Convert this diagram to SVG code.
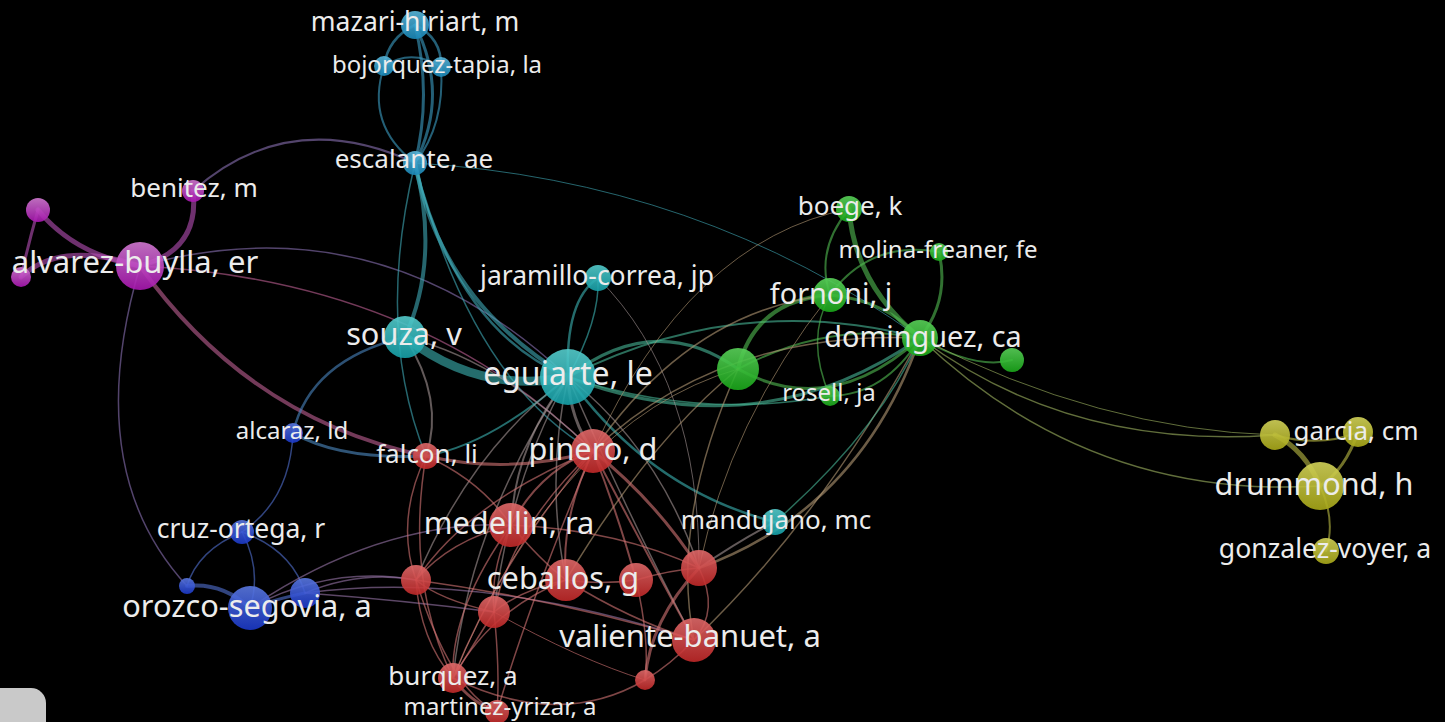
<svg xmlns="http://www.w3.org/2000/svg" width="1445" height="722" viewBox="0 0 1445 722">
<defs>
<style>
.e{fill:none;stroke-linecap:round;stroke-opacity:0.6}
.m{stroke:#b850b8}.mb{stroke:#8a72b4}.mp{stroke:#c06095}
.lb{stroke:#3c9ec4}.lt{stroke:#40aab8}.t{stroke:#3cb4b4}.tb{stroke:#4a86c0}.tg{stroke:#48b898}
.g{stroke:#52bc52}.gy{stroke:#a2b862}.y{stroke:#bcbc44}
.b{stroke:#5272d2}.bt{stroke:#4f8cc4}.br{stroke:#9a76aa}
.r{stroke:#d47474}.rt{stroke:#a49494}.rg{stroke:#b49a74}
.n{opacity:0.9}
text{font-family:"Noto Sans","Open Sans","DejaVu Sans",sans-serif;fill:#ececec;text-anchor:middle}
</style>
<linearGradient id="gM" x1="0" y1="0" x2="0" y2="1"><stop offset="0" stop-color="#d27ad2"/><stop offset="1" stop-color="#a816b0"/></linearGradient>
<linearGradient id="gL" x1="0" y1="0" x2="0" y2="1"><stop offset="0" stop-color="#5ab8dc"/><stop offset="1" stop-color="#1a88b8"/></linearGradient>
<linearGradient id="gT" x1="0" y1="0" x2="0" y2="1"><stop offset="0" stop-color="#55cccc"/><stop offset="1" stop-color="#16a0a8"/></linearGradient>
<linearGradient id="gG" x1="0" y1="0" x2="0" y2="1"><stop offset="0" stop-color="#5ad25a"/><stop offset="1" stop-color="#1aa81a"/></linearGradient>
<linearGradient id="gY" x1="0" y1="0" x2="0" y2="1"><stop offset="0" stop-color="#d4d45a"/><stop offset="1" stop-color="#a8a818"/></linearGradient>
<linearGradient id="gB" x1="0" y1="0" x2="0" y2="1"><stop offset="0" stop-color="#5a78e0"/><stop offset="1" stop-color="#1a38c8"/></linearGradient>
<linearGradient id="gR" x1="0" y1="0" x2="0" y2="1"><stop offset="0" stop-color="#e06a6a"/><stop offset="1" stop-color="#c02828"/></linearGradient>
</defs>
<rect width="1445" height="722" fill="#000"/>
<g id="connectors">
<path class="e m" stroke-width="5" d="M38 210 Q75 255 140 266"/>
<path class="e m" stroke-width="5" d="M21 277 Q60 240 140 266"/>
<path class="e m" stroke-width="3" d="M38 210 Q28 245 21 277"/>
<path class="e m" stroke-width="5" d="M140 266 Q200 250 193 191"/>
<path class="e mb" stroke-width="2" d="M193 191 Q290 105 415 163"/>
<path class="e mb" stroke-width="1.5" d="M140 266 Q380 200 568 377"/>
<path class="e mp" stroke-width="1.5" d="M140 266 Q420 280 593 451"/>
<path class="e mp" stroke-width="4" d="M140 266 Q250 420 426 456"/>
<path class="e mb" stroke-width="1.5" d="M140 266 Q80 470 187 586"/>
<path class="e lb" stroke-width="2.5" d="M415 25 Q388 38 384 66"/>
<path class="e lb" stroke-width="2.5" d="M415 25 Q442 38 441 67"/>
<path class="e lb" stroke-width="2" d="M384 66 Q412 48 441 67"/>
<path class="e lb" stroke-width="3" d="M415 25 Q450 95 415 163"/>
<path class="e lb" stroke-width="3" d="M415 25 Q432 95 415 163"/>
<path class="e lb" stroke-width="2" d="M384 66 Q365 125 415 163"/>
<path class="e lb" stroke-width="2" d="M441 67 Q445 125 415 163"/>
<path class="e lt" stroke-width="4" d="M415 163 Q440 260 405 337"/>
<path class="e lt" stroke-width="4" d="M415 163 Q440 300 568 377"/>
<path class="e lt" stroke-width="2.5" d="M415 163 Q455 330 568 377"/>
<path class="e lt" stroke-width="1.5" d="M415 163 Q470 380 593 451"/>
<path class="e lt" stroke-width="1.5" d="M415 163 Q375 330 426 456"/>
<path class="e lt" stroke-width="1" d="M415 163 Q700 180 920 338"/>
<path class="e t" stroke-width="9" d="M405 337 Q480 395 568 377"/>
<path class="e tb" stroke-width="2.5" d="M405 337 Q310 360 293 433"/>
<path class="e rt" stroke-width="2" d="M405 337 Q445 400 426 456"/>
<path class="e rt" stroke-width="1.5" d="M405 337 Q500 360 593 451"/>
<path class="e t" stroke-width="2.5" d="M568 377 Q565 300 598 278"/>
<path class="e t" stroke-width="1.5" d="M568 377 Q600 320 598 278"/>
<path class="e tg" stroke-width="3" d="M568 377 Q655 310 738 369"/>
<path class="e tg" stroke-width="2" d="M568 377 Q740 290 920 338"/>
<path class="e tg" stroke-width="3" d="M568 377 Q760 450 920 338"/>
<path class="e tg" stroke-width="1.5" d="M568 377 Q700 420 830 396"/>
<path class="e t" stroke-width="2.5" d="M568 377 Q650 490 775 522"/>
<path class="e t" stroke-width="2" d="M426 456 Q490 445 568 377"/>
<path class="e rt" stroke-width="3" d="M568 377 Q570 420 593 451"/>
<path class="e rt" stroke-width="2" d="M568 377 Q515 445 511 525"/>
<path class="e rt" stroke-width="1.5" d="M568 377 Q545 480 566 580"/>
<path class="e rt" stroke-width="1.5" d="M568 377 Q470 450 416 580"/>
<path class="e rt" stroke-width="1.5" d="M568 377 Q510 480 494 612"/>
<path class="e rt" stroke-width="1.5" d="M568 377 Q470 520 453 678"/>
<path class="e rt" stroke-width="1.5" d="M568 377 Q660 450 699 568"/>
<path class="e rt" stroke-width="1.5" d="M568 377 Q630 520 694 640"/>
<path class="e rt" stroke-width="1" d="M598 278 Q700 380 699 568"/>
<path class="e g" stroke-width="2" d="M849 209 Q815 250 830 295"/>
<path class="e g" stroke-width="5" d="M849 209 Q855 285 920 338"/>
<path class="e g" stroke-width="3" d="M939 252 Q950 300 920 338"/>
<path class="e g" stroke-width="2" d="M939 252 Q870 240 830 295"/>
<path class="e g" stroke-width="3" d="M830 295 Q885 300 920 338"/>
<path class="e g" stroke-width="4" d="M738 369 Q755 300 830 295"/>
<path class="e g" stroke-width="3" d="M738 369 Q830 420 920 338"/>
<path class="e g" stroke-width="2" d="M738 369 Q830 320 920 338"/>
<path class="e g" stroke-width="2" d="M830 396 Q885 395 920 338"/>
<path class="e g" stroke-width="1.5" d="M830 396 Q805 340 830 295"/>
<path class="e g" stroke-width="2" d="M920 338 Q975 370 1012 360"/>
<path class="e gy" stroke-width="1.5" d="M920 338 Q1090 500 1320 486"/>
<path class="e gy" stroke-width="1.5" d="M920 338 Q1070 450 1275 435"/>
<path class="e gy" stroke-width="1" d="M920 338 Q1100 430 1275 435"/>
<path class="e rg" stroke-width="2.5" d="M920 338 Q860 510 699 568"/>
<path class="e rg" stroke-width="1.5" d="M920 338 Q820 520 694 640"/>
<path class="e tg" stroke-width="1.5" d="M920 338 Q880 430 775 522"/>
<path class="e rg" stroke-width="1" d="M849 209 Q690 240 593 451"/>
<path class="e rg" stroke-width="1.5" d="M830 295 Q690 310 593 451"/>
<path class="e rg" stroke-width="1.5" d="M920 338 Q720 330 593 451"/>
<path class="e rg" stroke-width="1.5" d="M738 369 Q650 440 566 580"/>
<path class="e rg" stroke-width="1.5" d="M738 369 Q670 520 694 640"/>
<path class="e rg" stroke-width="1" d="M738 369 Q560 420 453 678"/>
<path class="e rg" stroke-width="1" d="M830 295 Q730 420 699 568"/>
<path class="e y" stroke-width="5" d="M1275 435 Q1305 450 1320 486"/>
<path class="e y" stroke-width="3" d="M1358 432 Q1345 470 1320 486"/>
<path class="e y" stroke-width="2" d="M1275 435 Q1320 448 1358 432"/>
<path class="e y" stroke-width="2" d="M1320 486 Q1336 520 1326 551"/>
<path class="e b" stroke-width="1.5" d="M293 433 Q290 500 242 532"/>
<path class="e bt" stroke-width="3" d="M293 433 Q340 460 426 456"/>
<path class="e b" stroke-width="1.5" d="M242 532 Q198 550 187 586"/>
<path class="e b" stroke-width="1.5" d="M242 532 Q262 570 250 608"/>
<path class="e b" stroke-width="1.5" d="M242 532 Q292 550 305 593"/>
<path class="e b" stroke-width="4" d="M187 586 Q222 582 250 608"/>
<path class="e b" stroke-width="3" d="M250 608 Q280 598 305 593"/>
<path class="e br" stroke-width="1.5" d="M250 608 Q380 520 511 525"/>
<path class="e br" stroke-width="1.5" d="M250 608 Q330 565 416 580"/>
<path class="e br" stroke-width="1.5" d="M305 593 Q360 570 416 580"/>
<path class="e br" stroke-width="1.5" d="M305 593 Q480 570 694 640"/>
<path class="e br" stroke-width="1.5" d="M305 593 Q400 600 494 612"/>
<path class="e r" stroke-width="3" d="M426 456 Q510 475 593 451"/>
<path class="e r" stroke-width="1.5" d="M426 456 Q395 520 416 580"/>
<path class="e r" stroke-width="1.5" d="M426 456 Q405 580 453 678"/>
<path class="e r" stroke-width="1.5" d="M426 456 Q480 480 511 525"/>
<path class="e r" stroke-width="2" d="M593 451 Q540 470 511 525"/>
<path class="e r" stroke-width="2" d="M593 451 Q560 520 566 580"/>
<path class="e r" stroke-width="2" d="M593 451 Q620 520 636 580"/>
<path class="e r" stroke-width="3" d="M593 451 Q655 500 699 568"/>
<path class="e r" stroke-width="2" d="M593 451 Q650 560 694 640"/>
<path class="e r" stroke-width="1.5" d="M593 451 Q500 560 453 678"/>
<path class="e r" stroke-width="1.5" d="M593 451 Q510 530 494 612"/>
<path class="e r" stroke-width="1.5" d="M593 451 Q470 500 416 580"/>
<path class="e r" stroke-width="1.5" d="M593 451 Q530 600 497 712"/>
<path class="e r" stroke-width="1.5" d="M511 525 Q450 540 416 580"/>
<path class="e r" stroke-width="1.5" d="M511 525 Q490 570 494 612"/>
<path class="e r" stroke-width="1.5" d="M511 525 Q540 560 566 580"/>
<path class="e r" stroke-width="1.5" d="M511 525 Q620 530 699 568"/>
<path class="e r" stroke-width="1.5" d="M511 525 Q450 610 453 678"/>
<path class="e r" stroke-width="1.5" d="M566 580 Q520 590 494 612"/>
<path class="e r" stroke-width="1.5" d="M566 580 Q490 610 453 678"/>
<path class="e r" stroke-width="1.5" d="M566 580 Q600 585 636 580"/>
<path class="e r" stroke-width="1.5" d="M566 580 Q630 620 694 640"/>
<path class="e r" stroke-width="1.5" d="M636 580 Q670 570 699 568"/>
<path class="e r" stroke-width="1.5" d="M699 568 Q720 610 694 640"/>
<path class="e r" stroke-width="3" d="M699 568 Q650 620 645 680"/>
<path class="e r" stroke-width="1.5" d="M694 640 Q670 665 645 680"/>
<path class="e r" stroke-width="3" d="M453 678 Q470 702 497 712"/>
<path class="e r" stroke-width="1.5" d="M453 678 Q560 730 645 680"/>
<path class="e r" stroke-width="1.5" d="M416 580 Q440 600 494 612"/>
<path class="e r" stroke-width="1.5" d="M416 580 Q420 640 453 678"/>
<path class="e r" stroke-width="1.5" d="M416 580 Q560 600 694 640"/>
<path class="e r" stroke-width="1.5" d="M494 612 Q470 650 453 678"/>
<path class="e r" stroke-width="1.5" d="M494 612 Q500 670 497 712"/>
<path class="e r" stroke-width="1.5" d="M416 580 Q450 690 497 712"/>
<path class="e rt" stroke-width="2" d="M775 522 Q740 540 699 568"/>
<path class="e r" stroke-width="1.5" d="M636 580 Q650 640 645 680"/>
<path class="e r" stroke-width="1" d="M494 612 Q580 660 645 680"/>
</g>
<g id="node-m1"><circle class="n" cx="38" cy="210" r="12" fill="url(#gM)"/></g>
<g id="node-m2"><circle class="n" cx="21" cy="277" r="10" fill="url(#gM)"/></g>
<g id="node-bl"><circle class="n" cx="384" cy="66" r="10" fill="url(#gL)"/></g>
<g id="node-g1"><circle class="n" cx="1012" cy="360" r="12" fill="url(#gG)"/></g>
<g id="node-g2"><circle class="n" cx="738" cy="369" r="21" fill="url(#gG)"/></g>
<g id="node-y1"><circle class="n" cx="1275" cy="435" r="15" fill="url(#gY)"/></g>
<g id="node-b1"><circle class="n" cx="187" cy="586" r="8" fill="url(#gB)"/></g>
<g id="node-b2"><circle class="n" cx="305" cy="593" r="15" fill="url(#gB)"/></g>
<g id="node-r1"><circle class="n" cx="636" cy="580" r="17" fill="url(#gR)"/></g>
<g id="node-r2"><circle class="n" cx="416" cy="580" r="15" fill="url(#gR)"/></g>
<g id="node-r3"><circle class="n" cx="494" cy="612" r="16" fill="url(#gR)"/></g>
<g id="node-r4"><circle class="n" cx="699" cy="568" r="18" fill="url(#gR)"/></g>
<g id="node-r5"><circle class="n" cx="645" cy="680" r="10" fill="url(#gR)"/></g>
<g id="node-mazari"><circle class="n" cx="415" cy="25" r="14" fill="url(#gL)"/><text x="415" y="31" font-size="26.5">mazari-hiriart, m</text></g>
<g id="node-bojorquez"><circle class="n" cx="441" cy="67" r="10" fill="url(#gL)"/><text x="437" y="73" font-size="24">bojorquez-tapia, la</text></g>
<g id="node-escalante"><circle class="n" cx="415" cy="163" r="12" fill="url(#gL)"/><text x="414" y="168" font-size="26">escalante, ae</text></g>
<g id="node-benitez"><circle class="n" cx="193" cy="191" r="11" fill="url(#gM)"/><text x="194" y="197" font-size="26">benitez, m</text></g>
<g id="node-alvarez"><circle class="n" cx="140" cy="266" r="24" fill="url(#gM)"/><text x="135" y="273" font-size="31">alvarez-buylla, er</text></g>
<g id="node-souza"><circle class="n" cx="405" cy="337" r="21" fill="url(#gT)"/><text x="404" y="345" font-size="30.7">souza, v</text></g>
<g id="node-jaramillo"><circle class="n" cx="598" cy="278" r="13" fill="url(#gT)"/><text x="597" y="285" font-size="26.5">jaramillo-correa, jp</text></g>
<g id="node-eguiarte"><circle class="n" cx="568" cy="377" r="28" fill="url(#gT)"/><text x="568" y="385" font-size="32">eguiarte, le</text></g>
<g id="node-mandujano"><circle class="n" cx="775" cy="522" r="13" fill="url(#gT)"/><text x="776" y="529" font-size="26">mandujano, mc</text></g>
<g id="node-boege"><circle class="n" cx="849" cy="209" r="13" fill="url(#gG)"/><text x="850" y="215" font-size="26">boege, k</text></g>
<g id="node-molina"><circle class="n" cx="939" cy="252" r="9" fill="url(#gG)"/><text x="938" y="258" font-size="24">molina-freaner, fe</text></g>
<g id="node-fornoni"><circle class="n" cx="830" cy="295" r="17" fill="url(#gG)"/><text x="831" y="304" font-size="28.8">fornoni, j</text></g>
<g id="node-dominguez"><circle class="n" cx="920" cy="338" r="18" fill="url(#gG)"/><text x="923" y="347" font-size="28.8">dominguez, ca</text></g>
<g id="node-rosell"><circle class="n" cx="830" cy="396" r="10" fill="url(#gG)"/><text x="829" y="401" font-size="24">rosell, ja</text></g>
<g id="node-garcia"><circle class="n" cx="1358" cy="432" r="15" fill="url(#gY)"/><text x="1356" y="440" font-size="26">garcia, cm</text></g>
<g id="node-drummond"><circle class="n" cx="1320" cy="486" r="24" fill="url(#gY)"/><text x="1314" y="495" font-size="30.6">drummond, h</text></g>
<g id="node-gonzalez"><circle class="n" cx="1326" cy="551" r="13" fill="url(#gY)"/><text x="1325" y="558" font-size="26.6">gonzalez-voyer, a</text></g>
<g id="node-alcaraz"><circle class="n" cx="293" cy="433" r="10" fill="url(#gB)"/><text x="292" y="439" font-size="24">alcaraz, ld</text></g>
<g id="node-cruz"><circle class="n" cx="242" cy="532" r="12" fill="url(#gB)"/><text x="241" y="538" font-size="26.5">cruz-ortega, r</text></g>
<g id="node-orozco"><circle class="n" cx="250" cy="608" r="22" fill="url(#gB)"/><text x="247" y="617" font-size="30.7">orozco-segovia, a</text></g>
<g id="node-falcon"><circle class="n" cx="426" cy="456" r="13" fill="url(#gR)"/><text x="427" y="463" font-size="26">falcon, li</text></g>
<g id="node-pinero"><circle class="n" cx="593" cy="451" r="22" fill="url(#gR)"/><text x="593" y="460" font-size="30.7">pinero, d</text></g>
<g id="node-medellin"><circle class="n" cx="511" cy="525" r="22" fill="url(#gR)"/><text x="509" y="534" font-size="30.7">medellin, ra</text></g>
<g id="node-ceballos"><circle class="n" cx="566" cy="580" r="21" fill="url(#gR)"/><text x="563" y="589" font-size="30.7">ceballos, g</text></g>
<g id="node-valiente"><circle class="n" cx="694" cy="640" r="22" fill="url(#gR)"/><text x="690" y="647" font-size="31">valiente-banuet, a</text></g>
<g id="node-burquez"><circle class="n" cx="453" cy="678" r="15" fill="url(#gR)"/><text x="453" y="685" font-size="26">burquez, a</text></g>
<g id="node-martinez"><circle class="n" cx="497" cy="712" r="12" fill="url(#gR)"/><text x="500" y="715" font-size="24">martinez-yrizar, a</text></g>
<rect x="-15" y="688" width="61" height="50" rx="15" fill="#c9c9c9"/>
</svg>
